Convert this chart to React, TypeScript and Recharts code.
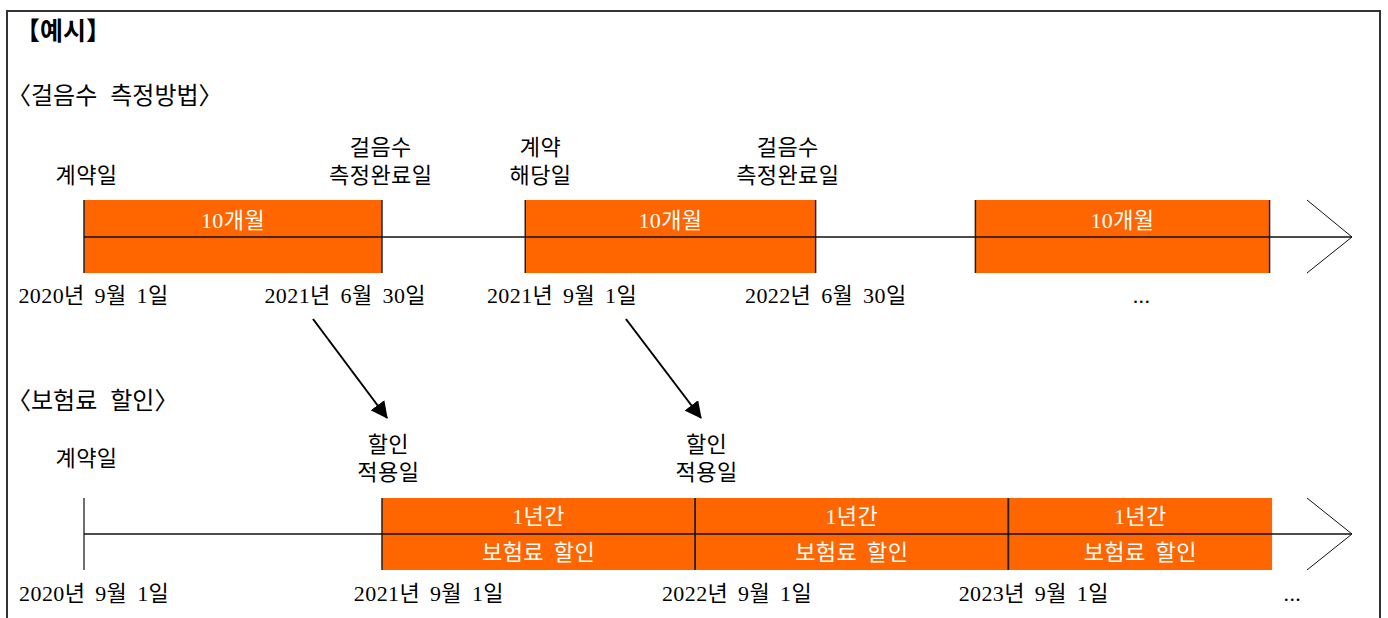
import { ComposedChart, Line, ReferenceArea, Scatter, XAxis, YAxis } from "recharts";

// positions along the timeline: 0 = start point, 100 = arrow tip
const measureSegments = [
  { label: "10개월", start: 0, end: 23.5 },
  { label: "10개월", start: 34.8, end: 57.7 },
  { label: "10개월", start: 70.3, end: 93.5 },
];

const measureEvents = [
  { x: 0.2, lines: ["계약일"] },
  { x: 23.4, lines: ["걸음수", "측정완료일"] },
  { x: 36.0, lines: ["계약", "해당일"] },
  { x: 55.5, lines: ["걸음수", "측정완료일"] },
];

const measureDates = [
  { x: 0.75, text: "2020년 9월 1일" },
  { x: 20.6, text: "2021년 6월 30일" },
  { x: 37.7, text: "2021년 9월 1일" },
  { x: 58.5, text: "2022년 6월 30일" },
  { x: 83.4, text: "..." },
];

const discountSegments = [
  { top: "1년간", bottom: "보험료 할인", start: 23.5, end: 48.2 },
  { top: "1년간", bottom: "보험료 할인", start: 48.2, end: 72.9 },
  { top: "1년간", bottom: "보험료 할인", start: 72.9, end: 93.7 },
];

const discountEvents = [
  { x: 0.2, lines: ["계약일"] },
  { x: 24.0, lines: ["할인", "적용일"] },
  { x: 49.1, lines: ["할인", "적용일"] },
];

const discountDates = [
  { x: 0.8, text: "2020년 9월 1일" },
  { x: 27.2, text: "2021년 9월 1일" },
  { x: 51.5, text: "2022년 9월 1일" },
  { x: 74.9, text: "2023년 9월 1일" },
  { x: 95.3, text: "..." },
];

const links = [
  { from: 18.06, to: 23.9 },
  { from: 42.74, to: 48.66 },
];

const TIMELINE_START = 0;
const TIMELINE_END = 100;
const CHEVRON_BACK = 96.45;

// layout
const W = 1388;
const H = 618;
const X_DOMAIN: [number, number] = [-6.625, 102.84];
const ORANGE = "#ff6600";
const FONT = "'Liberation Serif', 'Noto Sans CJK KR', serif";

const TOP = { axis: 237, y1: 200, y2: 273, eventY: 175, eventAlign: "bottom", dateY: 295 };
const BOTTOM = { axis: 534, y1: 498, y2: 570, eventY: 458, eventAlign: "center", dateY: 593 };
const LINK_Y = { from: 319, to: 418 };
const LINE_H = 28.5;

type TextPoint = { x: number; y: number; lines: string[] };

function textShape(color: string, align: string, size = 22) {
  return (props: any) => {
    const { cx, cy, payload } = props;
    const lines: string[] = payload.lines;
    const shift = align === "bottom" ? -(lines.length - 1) * LINE_H : (-(lines.length - 1) * LINE_H) / 2;
    return (
      <text
        x={cx}
        y={cy + shift}
        textAnchor="middle"
        dominantBaseline="central"
        fill={color}
        fontSize={size}
        fontFamily={FONT}
        style={{ wordSpacing: 4, letterSpacing: 0.4 }}
      >
        {lines.map((l, i) => (
          <tspan key={i} x={cx} dy={i === 0 ? 0 : LINE_H}>
            {l}
          </tspan>
        ))}
      </text>
    );
  };
}

function Heading({ top, left, size, children, bold }: { top: number; left: number; size: number; children: string; bold?: boolean }) {
  return (
    <div
      style={{
        position: "absolute",
        left,
        top: top - 15,
        lineHeight: "30px",
        fontSize: size,
        fontFamily: FONT,
        fontWeight: bold ? 700 : 400,
        color: "#000",
        whiteSpace: "pre",
        wordSpacing: 7,
      }}
    >
      {children}
    </div>
  );
}

export default function App() {
  const rows = [
    { cfg: TOP, segments: measureSegments.map((s) => ({ ...s, edgeRight: true })) },
    {
      cfg: BOTTOM,
      segments: discountSegments.map((s, i) => ({ ...s, edgeRight: i < discountSegments.length - 1 })),
    },
  ];

  const lines: { key: string; data: { x: number; y: number }[]; width: number; color: string; marker?: boolean }[] = [];
  rows.forEach((r, ri) => {
    const c = r.cfg;
    r.segments.forEach((s, si) => {
      lines.push({ key: `l${ri}-${si}`, data: [{ x: s.start, y: c.y1 }, { x: s.start, y: c.y2 }], width: 1.5, color: "#222" });
      if (s.edgeRight) {
        lines.push({ key: `r${ri}-${si}`, data: [{ x: s.end, y: c.y1 }, { x: s.end, y: c.y2 }], width: 1.5, color: "#222" });
      }
    });
    if (ri === 1) {
      lines.push({ key: "tick", data: [{ x: TIMELINE_START, y: c.y1 }, { x: TIMELINE_START, y: c.y2 }], width: 1.3, color: "#222" });
    }
    lines.push({ key: `axis${ri}`, data: [{ x: TIMELINE_START, y: c.axis }, { x: TIMELINE_END, y: c.axis }], width: 1.5, color: "#111" });
    lines.push({
      key: `chev${ri}`,
      data: [
        { x: CHEVRON_BACK, y: c.y1 },
        { x: TIMELINE_END, y: c.axis },
        { x: CHEVRON_BACK, y: c.y2 },
      ],
      width: 1,
      color: "#111",
    });
  });
  links.forEach((l, i) => {
    lines.push({ key: `link${i}`, data: [{ x: l.from, y: LINK_Y.from }, { x: l.to, y: LINK_Y.to }], width: 2, color: "#000", marker: true });
  });

  const topEvents: TextPoint[] = measureEvents.map((e) => ({ ...e, y: TOP.eventY }));
  const bottomEvents: TextPoint[] = discountEvents.map((e) => ({ ...e, y: BOTTOM.eventY }));
  const dateTexts: TextPoint[] = [
    ...measureDates.map((d) => ({ x: d.x, y: TOP.dateY, lines: [d.text] })),
    ...discountDates.map((d) => ({ x: d.x, y: BOTTOM.dateY, lines: [d.text] })),
  ];
  const barTexts: TextPoint[] = [
    ...measureSegments.map((s) => ({ x: (s.start + s.end) / 2, y: (TOP.y1 + TOP.axis) / 2 + 1, lines: [s.label] })),
    ...discountSegments.map((s) => ({ x: (s.start + s.end) / 2, y: (BOTTOM.y1 + BOTTOM.axis) / 2, lines: [s.top] })),
    ...discountSegments.map((s) => ({ x: (s.start + s.end) / 2, y: (BOTTOM.axis + BOTTOM.y2) / 2, lines: [s.bottom] })),
  ];

  return (
    <div style={{ position: "fixed", left: 0, top: 0, width: W, height: H, overflow: "hidden", background: "#fff" }}>
      <div
        style={{
          position: "absolute",
          left: 6,
          top: 10,
          width: 1375,
          height: 640,
          border: "2px solid #333",
          boxSizing: "border-box",
        }}
      />
      <Heading top={32} left={15} size={25} bold>
        【예시】
      </Heading>
      <Heading top={96} left={7} size={24}>〈걸음수 측정방법〉</Heading>
      <Heading top={401} left={7} size={24}>〈보험료 할인〉</Heading>
      <div style={{ position: "absolute", left: 0, top: 0 }}>
        <ComposedChart width={W} height={H} margin={{ top: 0, right: 0, bottom: 0, left: 0 }}>
          <defs>
            <marker
              id="linkHead"
              viewBox="0 0 16 16"
              refX={15}
              refY={8}
              markerWidth={17}
              markerHeight={17}
              markerUnits="userSpaceOnUse"
              orient="auto"
            >
              <path d="M0,0 L16,8 L0,16 z" fill="#000" />
            </marker>
          </defs>
          <XAxis type="number" dataKey="x" domain={X_DOMAIN} hide allowDataOverflow />
          <YAxis type="number" dataKey="y" domain={[0, H]} reversed hide allowDataOverflow />
          {rows.map((r, ri) =>
            r.segments.map((s, si) => (
              <ReferenceArea
                key={`a${ri}-${si}`}
                x1={s.start}
                x2={s.end}
                y1={r.cfg.y1}
                y2={r.cfg.y2}
                fill={ORANGE}
                fillOpacity={1}
                stroke="none"
                ifOverflow="visible"
              />
            ))
          )}
          {lines.map((l) => (
            <Line
              key={l.key}
              data={l.data}
              dataKey="y"
              type="linear"
              stroke={l.color}
              strokeWidth={l.width}
              dot={false}
              activeDot={false}
              isAnimationActive={false}
              markerEnd={l.marker ? "url(#linkHead)" : undefined}
            />
          ))}
          <Scatter data={barTexts} shape={textShape("#fff", "center")} isAnimationActive={false} />
          <Scatter data={topEvents} shape={textShape("#000", TOP.eventAlign)} isAnimationActive={false} />
          <Scatter data={bottomEvents} shape={textShape("#000", BOTTOM.eventAlign)} isAnimationActive={false} />
          <Scatter data={dateTexts} shape={textShape("#000", "center")} isAnimationActive={false} />
        </ComposedChart>
      </div>
    </div>
  );
}
